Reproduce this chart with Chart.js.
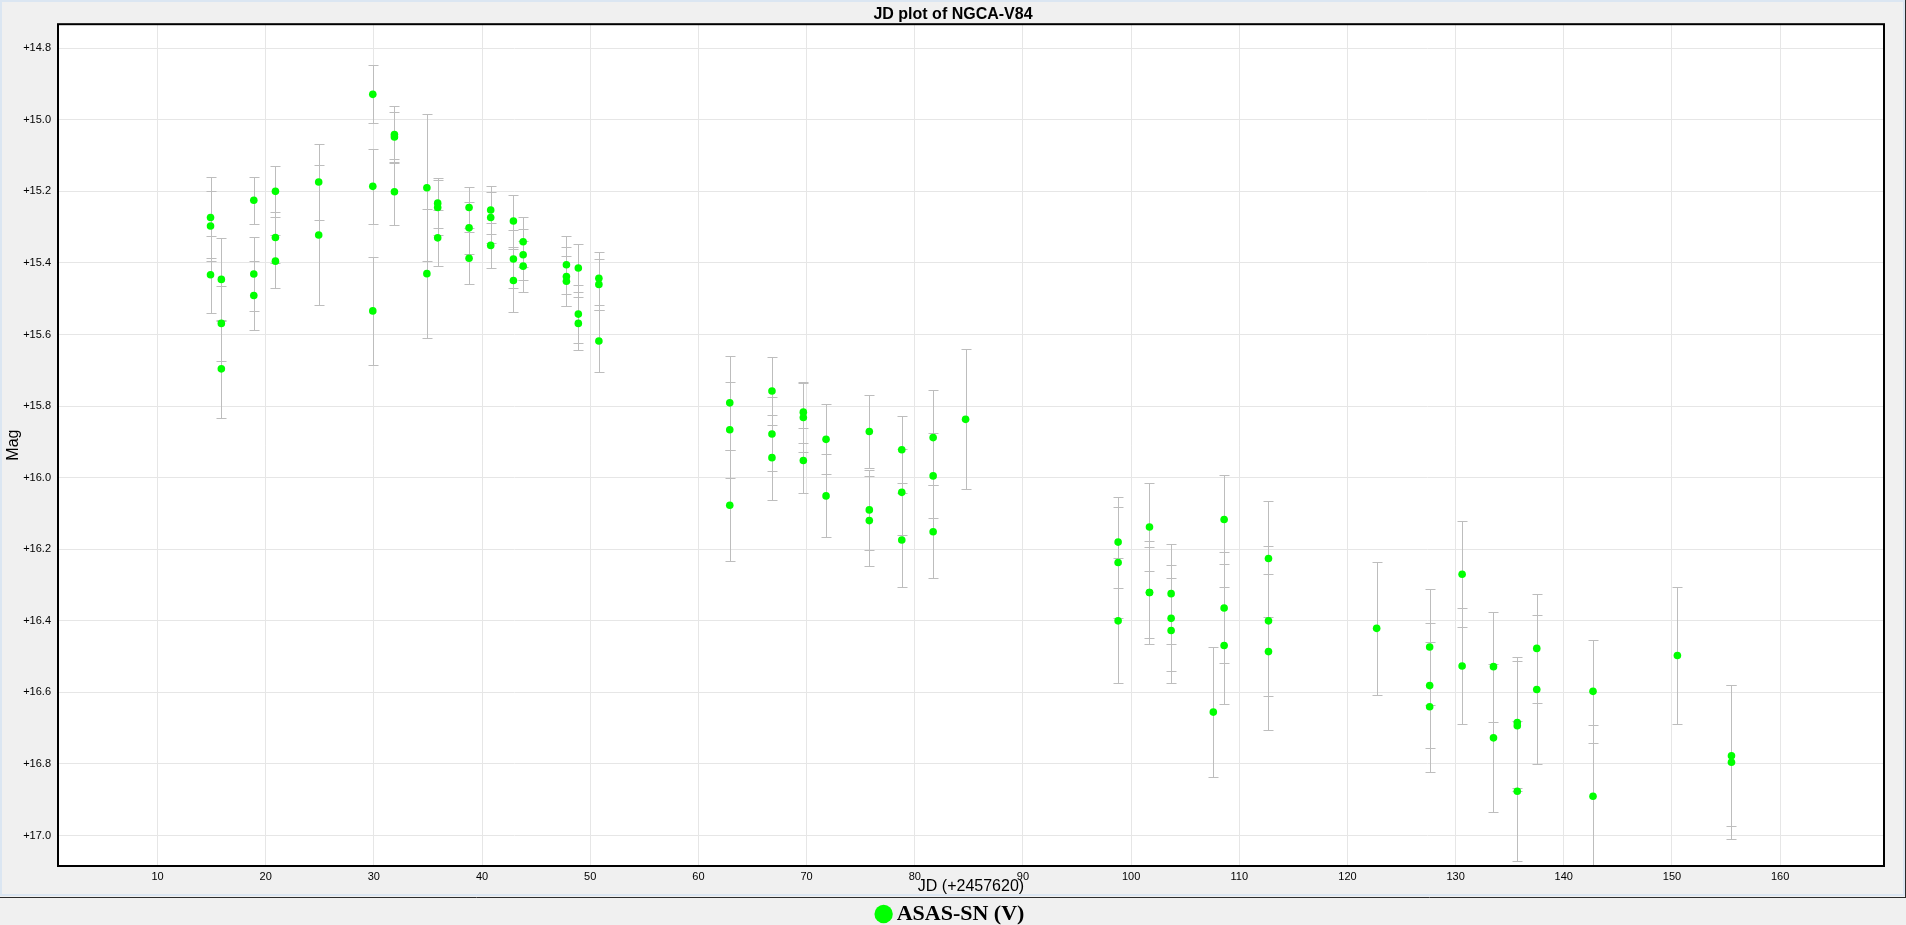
<!DOCTYPE html>
<html>
<head>
<meta charset="utf-8">
<title>JD plot of NGCA-V84</title>
<script src="https://cdn.jsdelivr.net/npm/chart.js@4.4.0/dist/chart.umd.min.js"></script>
<style>
  html, body { margin: 0; padding: 0; background: #f0f0f0; overflow: hidden; }
  #lcChart { display: block; }
</style>
</head>
<body>
<canvas id="lcChart" width="1906" height="925"></canvas>
<script>
// --- DATA (JD - 2457620, V mag, 1-sigma error) ---
const jd = [
  14.9, 14.9, 14.9,  15.9, 15.9, 15.9,  18.9, 18.9, 18.9,  20.9, 20.9, 20.9,
  24.9, 24.9,  29.9, 29.9, 29.9,  31.9, 31.9, 31.9,  34.9, 34.9,
  35.9, 35.9, 35.9,  38.8, 38.8, 38.8,  40.8, 40.8, 40.8,  42.9, 42.9, 42.9,
  43.8, 43.8, 43.8,  47.8, 47.8, 47.8,  48.9, 48.9, 48.9,  50.8, 50.8, 50.8,
  62.9, 62.9, 62.9,  66.8, 66.8, 66.8,  69.7, 69.7, 69.7,  71.8, 71.8,
  75.8, 75.8, 75.8,  78.8, 78.8, 78.8,  81.7, 81.7, 81.7,  84.7,
  98.8, 98.8, 98.8,  101.7, 101.7, 101.7,  103.7, 103.7, 103.7,  107.6,
  108.6, 108.6, 108.6,  112.7, 112.7, 112.7,  122.7,
  127.6, 127.6, 127.6,  130.6, 130.6,  133.5, 133.5,  135.7, 135.7, 135.7,
  137.5, 137.5,  142.7, 142.7,  150.5,  155.5, 155.5
];
const mag = [
  15.273, 15.297, 15.433,  15.446, 15.569, 15.696,  15.225, 15.431, 15.491,  15.200, 15.329, 15.395,
  15.174, 15.322,  14.929, 15.186, 15.534,  15.041, 15.048, 15.201,  15.190, 15.430,
  15.233, 15.245, 15.330,  15.245, 15.302, 15.387,  15.252, 15.273, 15.351,  15.283, 15.389, 15.449,
  15.341, 15.377, 15.409,  15.405, 15.438, 15.451,  15.414, 15.543, 15.569,  15.443, 15.460, 15.618,
  15.791, 15.866, 16.077,  15.758, 15.878, 15.944,  15.817, 15.832, 15.952,  15.893, 16.051,
  15.871, 16.090, 16.120,  15.922, 16.041, 16.174,  15.888, 15.995, 16.151,  15.837,
  16.180, 16.237, 16.400,  16.138, 16.321, 16.321,  16.324, 16.393, 16.427,  16.655,
  16.117, 16.364, 16.469,  16.226, 16.400, 16.486,  16.421,
  16.473, 16.581, 16.640,  16.270, 16.526,  16.528, 16.727,  16.684, 16.693, 16.876,
  16.477, 16.592,  16.597, 16.890,  16.497,  16.777, 16.795
];
const magErr = [
  0.113, 0.099, 0.107,  0.117, 0.105, 0.136,  0.066, 0.103, 0.097,  0.071, 0.072, 0.074,
  0.106, 0.196,  0.081, 0.105, 0.151,  0.080, 0.070, 0.092,  0.206, 0.180,
  0.070, 0.078, 0.078,  0.058, 0.072, 0.073,  0.067, 0.070, 0.063,  0.073, 0.081, 0.088,
  0.070, 0.072, 0.071,  0.081, 0.082, 0.070,  0.067, 0.081, 0.074,  0.074, 0.071, 0.087,
  0.131, 0.134, 0.155,  0.095, 0.102, 0.118,  0.085, 0.096, 0.092,  0.098, 0.116,
  0.101, 0.111, 0.126,  0.094, 0.120, 0.131,  0.132, 0.119, 0.130,  0.196,
  0.127, 0.154, 0.175,  0.122, 0.143, 0.126,  0.140, 0.148, 0.147,  0.181,
  0.124, 0.155, 0.164,  0.162, 0.210, 0.218,  0.186,
  0.162, 0.174, 0.182,  0.148, 0.161,  0.154, 0.207,  0.183, 0.182, 0.196,
  0.153, 0.207,  0.144, 0.200,  0.192,  0.197, 0.215
];
const xTicks = [10, 20, 30, 40, 50, 60, 70, 80, 90, 100, 110, 120, 130, 140, 150, 160];
const yTicks = [14.8, 15.0, 15.2, 15.4, 15.6, 15.8, 16.0, 16.2, 16.4, 16.6, 16.8, 17.0];
const seriesName = 'ASAS-SN (V)';

// --- PLUGINS ---
// panel background, frame and the black box round the plot
const framePlugin = {
  id: 'frame',
  beforeDraw(chart) {
    const { ctx, chartArea: a, width } = chart;
    ctx.save();
    ctx.fillStyle = '#f0f0f0';
    ctx.fillRect(0, 0, chart.width, chart.height);
    ctx.fillStyle = '#ffffff';
    ctx.fillRect(a.left, a.top, a.right - a.left, a.bottom - a.top);
    ctx.strokeStyle = '#dbe6f2';
    ctx.lineWidth = 2;
    ctx.strokeRect(1, 1, width - 3, 894);
    ctx.strokeStyle = '#2b2b2b';
    ctx.lineWidth = 1;
    ctx.beginPath();
    ctx.moveTo(0, 897.5); ctx.lineTo(width, 897.5);
    ctx.moveTo(width - 0.5, 0); ctx.lineTo(width - 0.5, 898);
    ctx.stroke();
    ctx.restore();
  },
  afterDraw(chart) {
    const { ctx, chartArea: a } = chart;
    ctx.save();
    ctx.strokeStyle = '#000';
    ctx.lineWidth = 2;
    ctx.strokeRect(a.left, a.top, a.right - a.left, a.bottom - a.top);
    ctx.restore();
  }
};

// vertical error bars with caps, drawn under the points
const errorBarPlugin = {
  id: 'errorBars',
  beforeDatasetsDraw(chart) {
    const { ctx, chartArea: a, scales: { x, y } } = chart;
    ctx.save();
    ctx.beginPath();
    ctx.rect(a.left, a.top, a.right - a.left, a.bottom - a.top);
    ctx.clip();
    ctx.strokeStyle = '#bdbdbd';
    ctx.lineWidth = 1;
    ctx.beginPath();
    jd.forEach((d, i) => {
      const px = Math.round(x.getPixelForValue(d)) + 0.5;
      const top = Math.round(y.getPixelForValue(mag[i] - magErr[i])) + 0.5;
      const bot = Math.round(y.getPixelForValue(mag[i] + magErr[i])) + 0.5;
      ctx.moveTo(px, top); ctx.lineTo(px, bot);
      ctx.moveTo(px - 5, top); ctx.lineTo(px + 5, top);
      ctx.moveTo(px - 5, bot); ctx.lineTo(px + 5, bot);
    });
    ctx.stroke();
    ctx.restore();
  }
};

// --- CHART SETUP ---
const sans = 'Liberation Sans, Arial, sans-serif';
const ctx = document.getElementById('lcChart').getContext('2d');
const chart = new Chart(ctx, {
  type: 'scatter',
  data: {
    datasets: [{
      label: seriesName,
      data: jd.map((d, i) => ({ x: d, y: mag[i] })),
      backgroundColor: '#00ff00',
      pointBackgroundColor: '#00ff00',
      pointBorderWidth: 0,
      borderWidth: 0,
      pointRadius: 3.8,
      pointHoverRadius: 3.8,
      showLine: false
    }]
  },
  options: {
    responsive: false,
    devicePixelRatio: 1,
    animation: false,
    events: [],
    // legend box runs past the canvas bottom so its text lands low in the strip
    layout: { padding: { left: 22, right: 22, top: 0, bottom: -10 } },
    plugins: {
      tooltip: { enabled: false },
      title: {
        display: true,
        text: 'JD plot of NGCA-V84',
        color: '#000',
        font: { family: sans, size: 16, weight: 'bold' },
        padding: { top: 5, bottom: 0 }
      },
      legend: {
        display: true,
        position: 'bottom',
        labels: {
          usePointStyle: true,
          pointStyle: 'circle',
          boxWidth: 4,
          boxHeight: 13,
          padding: 0,
          color: '#000',
          font: { family: 'Liberation Serif, Times New Roman, serif', size: 22, weight: 'bold' }
        }
      }
    },
    scales: {
      x: {
        type: 'linear',
        min: 0.8,
        max: 169.6,
        afterBuildTicks: s => { s.ticks = xTicks.map(v => ({ value: v })); },
        afterFit: s => { s.height = 37; },
        grid: { color: '#e6e6e6', drawTicks: false },
        border: { display: false },
        ticks: {
          color: '#000',
          padding: 4,
          maxRotation: 0,
          autoSkip: false,
          font: { family: sans, size: 11 },
          callback: v => String(v)
        },
        title: {
          display: true,
          text: 'JD (+2457620)',
          color: '#000',
          font: { family: sans, size: 16 },
          padding: { top: 0, bottom: 7 }
        }
      },
      y: {
        type: 'linear',
        reverse: true,
        min: 14.733,
        max: 17.085,
        afterBuildTicks: s => { s.ticks = yTicks.map(v => ({ value: v })); },
        afterFit: s => { s.width = 36; },
        grid: { color: '#e6e6e6', drawTicks: false },
        border: { display: false },
        ticks: {
          color: '#000',
          padding: 7,
          font: { family: sans, size: 11 },
          callback: v => '+' + Number(v).toFixed(1)
        },
        title: {
          display: true,
          text: 'Mag',
          color: '#000',
          font: { family: sans, size: 16 },
          padding: { top: -18.4, bottom: 0 }
        }
      }
    }
  },
  plugins: [framePlugin, errorBarPlugin]
});
</script>
</body>
</html>
